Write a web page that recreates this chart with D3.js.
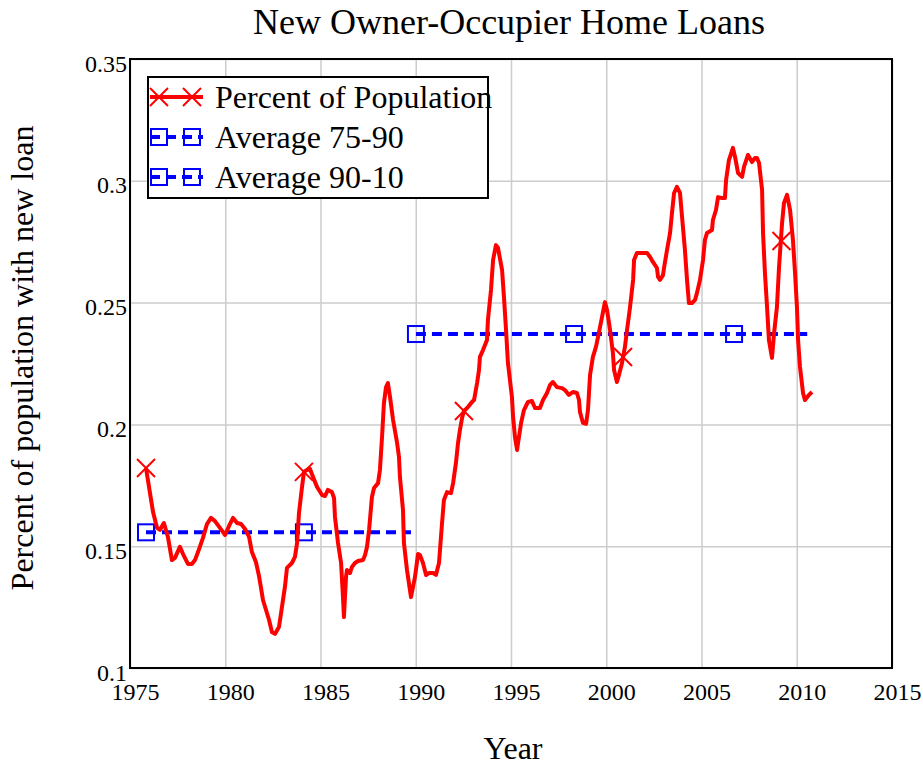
<!DOCTYPE html>
<html>
<head>
<meta charset="utf-8">
<script src="https://cdn.jsdelivr.net/npm/d3@7"></script>
<style>
  body { margin: 0; background: #fff; }
  svg { display: block; font-family: "Times New Roman", "Liberation Serif", serif; }
</style>
</head>
<body>
<div class="chart"></div>
<script>
// values
const years = [
  1975.84,1976.05,1976.21,1976.42,1976.57,1976.78,1976.99,1977.20,1977.36,1977.62,
  1977.83,1978.04,1978.25,1978.41,1978.57,1978.83,1979.04,1979.25,1979.46,1979.72,
  1979.99,1980.20,1980.41,1980.62,1980.83,1981.04,1981.25,1981.40,1981.61,1981.77,
  1981.88,1981.98,1982.14,1982.30,1982.45,1982.61,1982.82,1982.93,1983.14,1983.24,
  1983.50,1983.66,1983.77,1983.87,1984.03,1984.13,1984.29,1984.45,1984.61,1984.82,
  1985.08,1985.24,1985.39,1985.60,1985.71,1985.76,1985.92,1986.08,1986.18,1986.23,
  1986.34,1986.39,1986.55,1986.65,1986.81,1986.97,1987.23,1987.34,1987.44,1987.55,
  1987.70,1987.81,1988.02,1988.12,1988.23,1988.33,1988.44,1988.54,1988.65,1988.81,
  1989.02,1989.12,1989.17,1989.33,1989.38,1989.54,1989.75,1989.96,1990.12,1990.22,
  1990.38,1990.54,1990.70,1990.91,1991.06,1991.22,1991.38,1991.48,1991.64,1991.85,
  1991.96,1992.11,1992.22,1992.32,1992.43,1992.53,1992.74,1992.95,1993.06,1993.22,
  1993.32,1993.37,1993.53,1993.74,1993.79,1993.95,1994.06,1994.21,1994.32,1994.53,
  1994.63,1994.74,1994.84,1995.05,1995.11,1995.21,1995.32,1995.37,1995.53,1995.68,
  1995.89,1996.10,1996.26,1996.52,1996.68,1996.89,1997.05,1997.20,1997.41,1997.68,
  1997.83,1998.04,1998.25,1998.46,1998.57,1998.62,1998.78,1998.94,1999.04,1999.15,
  1999.30,1999.46,1999.57,1999.78,1999.93,2000.04,2000.20,2000.35,2000.41,2000.56,
  2000.62,2000.83,2000.98,2001.09,2001.25,2001.41,2001.46,2001.61,2001.88,2002.14,
  2002.30,2002.45,2002.66,2002.72,2002.82,2002.98,2003.04,2003.19,2003.35,2003.45,
  2003.56,2003.71,2003.87,2003.98,2004.13,2004.24,2004.34,2004.50,2004.66,2004.76,
  2004.92,2005.08,2005.18,2005.29,2005.55,2005.60,2005.76,2005.87,2006.08,2006.23,
  2006.29,2006.44,2006.65,2006.76,2006.92,2007.13,2007.23,2007.44,2007.65,2007.81,
  2007.91,2008.02,2008.18,2008.23,2008.33,2008.44,2008.54,2008.70,2008.81,2008.96,
  2009.07,2009.23,2009.33,2009.49,2009.65,2009.80,2009.91,2010.01,2010.07,2010.17,
  2010.33,2010.43,2010.64,2010.80
]
const percentPop = [
  0.1821,0.1718,0.1640,0.1575,0.1567,0.1595,0.1538,0.1443,0.1452,0.1497,
  0.1460,0.1427,0.1427,0.1443,0.1476,0.1534,0.1591,0.1616,0.1603,0.1575,
  0.1546,0.1583,0.1616,0.1595,0.1591,0.1571,0.1538,0.1476,0.1435,0.1378,
  0.1328,0.1279,0.1238,0.1197,0.1148,0.1140,0.1168,0.1226,0.1337,0.1411,
  0.1431,0.1456,0.1513,0.1636,0.1743,0.1805,0.1813,0.1817,0.1784,0.1743,
  0.1710,0.1706,0.1731,0.1722,0.1698,0.1620,0.1513,0.1431,0.1291,0.1209,
  0.1374,0.1402,0.1390,0.1415,0.1431,0.1439,0.1443,0.1464,0.1497,0.1567,
  0.1702,0.1739,0.1759,0.1813,0.1948,0.2088,0.2153,0.2170,0.2112,0.2018,
  0.1924,0.1866,0.1784,0.1649,0.1513,0.1402,0.1291,0.1374,0.1468,0.1464,
  0.1431,0.1382,0.1390,0.1390,0.1382,0.1431,0.1595,0.1690,0.1722,0.1718,
  0.1759,0.1842,0.1924,0.1977,0.2026,0.2055,0.2071,0.2092,0.2100,0.2170,
  0.2223,0.2277,0.2305,0.2346,0.2429,0.2552,0.2675,0.2736,0.2724,0.2634,
  0.2523,0.2387,0.2252,0.2112,0.2030,0.1948,0.1895,0.1924,0.2006,0.2059,
  0.2092,0.2096,0.2067,0.2067,0.2100,0.2129,0.2162,0.2174,0.2153,0.2149,
  0.2141,0.2121,0.2133,0.2129,0.2100,0.2051,0.2006,0.2002,0.2059,0.2203,
  0.2277,0.2318,0.2359,0.2441,0.2502,0.2470,0.2387,0.2293,0.2223,0.2174,
  0.2190,0.2252,0.2318,0.2387,0.2482,0.2593,0.2675,0.2704,0.2704,0.2704,
  0.2687,0.2667,0.2642,0.2605,0.2593,0.2613,0.2646,0.2716,0.2786,0.2868,
  0.2950,0.2975,0.2950,0.2851,0.2716,0.2593,0.2498,0.2498,0.2511,0.2539,
  0.2593,0.2675,0.2757,0.2786,0.2798,0.2839,0.2880,0.2933,0.2929,0.2929,
  0.3003,0.3085,0.3135,0.3098,0.3032,0.3016,0.3057,0.3106,0.3077,0.3094,
  0.3094,0.3073,0.2962,0.2786,0.2622,0.2482,0.2346,0.2273,0.2375,0.2482,
  0.2646,0.2827,0.2909,0.2942,0.2880,0.2757,0.2622,0.2482,0.2346,0.2236,
  0.2129,0.2100,0.2121,0.2133
]
// trace markers on the red series
const popMarkYears = [1975.84, 1984.13, 1992.53, 2000.88, 2009.20]
const popMarkValues = [0.1821, 0.1805, 0.2055, 0.2277, 0.2753]

// averages
const avg7590 = 0.1557
const avg7590Span = [1975.84, 1989.75]
const avg7590Marks = [1975.84, 1984.13]
const avg9010 = 0.2371
const avg9010Span = [1990.01, 2010.55]
const avg9010Marks = [1990.01, 1998.31, 2006.71]

const xTicks = [1975, 1980, 1985, 1990, 1995, 2000, 2005, 2010, 2015]
const yTicks = [0.1, 0.15, 0.2, 0.25, 0.3, 0.35]
const yTickLabels = ["0.1", "0.15", "0.2", "0.25", "0.3", "0.35"]
const legendNames = ["Percent of Population", "Average 75-90", "Average 90-10"]

var width = 923, height = 765
var plotLeft = 130, plotRight = 892, plotTop = 59, plotBottom = 668

var svg = d3.select(".chart").append("svg")
  .attr("width", width)
  .attr("height", height)

let x = d3.scaleLinear().domain([1975, 2015]).range([plotLeft, plotRight])
let y = d3.scaleLinear().domain([0.1, 0.35]).range([plotBottom, plotTop])

// ######################
// grid + tick labels
// ######################
svg.append("g")
  .attr("transform", `translate(0,${plotBottom})`)
  .call(d3.axisBottom(x).tickValues(xTicks).tickSize(-(plotBottom - plotTop)).tickFormat(""))
  .call(g => g.select(".domain").remove())
  .selectAll("line").attr("stroke", "#cccccc").attr("stroke-width", 1.5)

svg.append("g")
  .attr("transform", `translate(${plotLeft},0)`)
  .call(d3.axisLeft(y).tickValues(yTicks).tickSize(-(plotRight - plotLeft)).tickFormat(""))
  .call(g => g.select(".domain").remove())
  .selectAll("line").attr("stroke", "#cccccc").attr("stroke-width", 1.5)

let xAxis = svg.append("g")
  .attr("transform", `translate(0,${plotBottom})`)
  .call(d3.axisBottom(x).tickValues(xTicks).tickSize(0).tickPadding(15).tickFormat(d3.format("d")))
xAxis.select(".domain").remove()
xAxis.selectAll("text")
  .attr("font-family", "Times New Roman, Liberation Serif, serif")
  .attr("font-size", 24).attr("fill", "#000").attr("dx", 5)

let yAxis = svg.append("g")
  .attr("transform", `translate(${plotLeft},0)`)
  .call(d3.axisLeft(y).tickValues(yTicks).tickSize(0).tickPadding(3).tickFormat((d, i) => yTickLabels[i]))
yAxis.select(".domain").remove()
yAxis.selectAll("text")
  .attr("font-family", "Times New Roman, Liberation Serif, serif")
  .attr("font-size", 24).attr("fill", "#000").attr("dy", "0.5em")

// plot frame
svg.append("rect")
  .attr("x", plotLeft).attr("y", plotTop)
  .attr("width", plotRight - plotLeft).attr("height", plotBottom - plotTop)
  .attr("fill", "none").attr("stroke", "#000").attr("stroke-width", 2)

// ######################
// averages (blue dashed)
// ######################
function blueSquare(sel, cx, cy) {
  sel.append("rect")
    .attr("x", cx - 8).attr("y", cy - 8)
    .attr("width", 16).attr("height", 16)
    .attr("fill", "none").attr("stroke", "#0000ff").attr("stroke-width", 2)
}
function redCross(sel, cx, cy) {
  sel.append("path")
    .attr("d", `M${cx - 9},${cy - 9}L${cx + 9},${cy + 9}M${cx - 9},${cy + 9}L${cx + 9},${cy - 9}`)
    .attr("stroke", "#ff0000").attr("stroke-width", 2).attr("fill", "none")
}

let avgs = [
  { v: avg7590, span: avg7590Span, marks: avg7590Marks },
  { v: avg9010, span: avg9010Span, marks: avg9010Marks }
]
avgs.forEach(function (a) {
  svg.append("line")
    .attr("x1", x(a.span[0])).attr("x2", x(a.span[1]))
    .attr("y1", y(a.v)).attr("y2", y(a.v))
    .attr("stroke", "#0000ff").attr("stroke-width", 4)
    .attr("stroke-dasharray", "10,6")
  a.marks.forEach(m => blueSquare(svg, x(m), y(a.v)))
})

// ######################
// percent of population
// ######################
let line = d3.line()
  .x((d, i) => x(years[i]))
  .y(d => y(d))

svg.append("path")
  .datum(percentPop)
  .attr("d", line)
  .attr("fill", "none")
  .attr("stroke", "#ff0000")
  .attr("stroke-width", 4)
  .attr("stroke-linejoin", "round")

popMarkYears.forEach((yr, i) => redCross(svg, x(yr), y(popMarkValues[i])))

// ######################
// legend
// ######################
let lg = svg.append("g")
lg.append("rect")
  .attr("x", 148).attr("y", 77).attr("width", 340).attr("height", 121)
  .attr("fill", "#fff").attr("stroke", "#000").attr("stroke-width", 2)

legendNames.forEach(function (name, i) {
  let ly = 97 + i * 40
  if (i == 0) {
    lg.append("line").attr("x1", 150).attr("x2", 203).attr("y1", ly).attr("y2", ly)
      .attr("stroke", "#ff0000").attr("stroke-width", 4)
    redCross(lg, 159, ly)
    redCross(lg, 192, ly)
  } else {
    lg.append("line").attr("x1", 150).attr("x2", 203).attr("y1", ly).attr("y2", ly)
      .attr("stroke", "#0000ff").attr("stroke-width", 4).attr("stroke-dasharray", "10,6")
    blueSquare(lg, 159, ly)
    blueSquare(lg, 192, ly)
  }
  lg.append("text")
    .attr("x", 215).attr("y", ly + 11)
    .attr("font-size", 32)
    .text(name)
})

// ######################
// titles
// ######################
svg.append("text")
  .attr("x", 509).attr("y", 34)
  .attr("text-anchor", "middle")
  .attr("font-size", 36)
  .text("New Owner-Occupier Home Loans")

svg.append("text")
  .attr("x", 513).attr("y", 759)
  .attr("text-anchor", "middle")
  .attr("font-size", 32)
  .text("Year")

svg.append("text")
  .attr("transform", "translate(33,358) rotate(-90)")
  .attr("text-anchor", "middle")
  .attr("font-size", 32)
  .text("Percent of population with new loan")
</script>
</body>
</html>
